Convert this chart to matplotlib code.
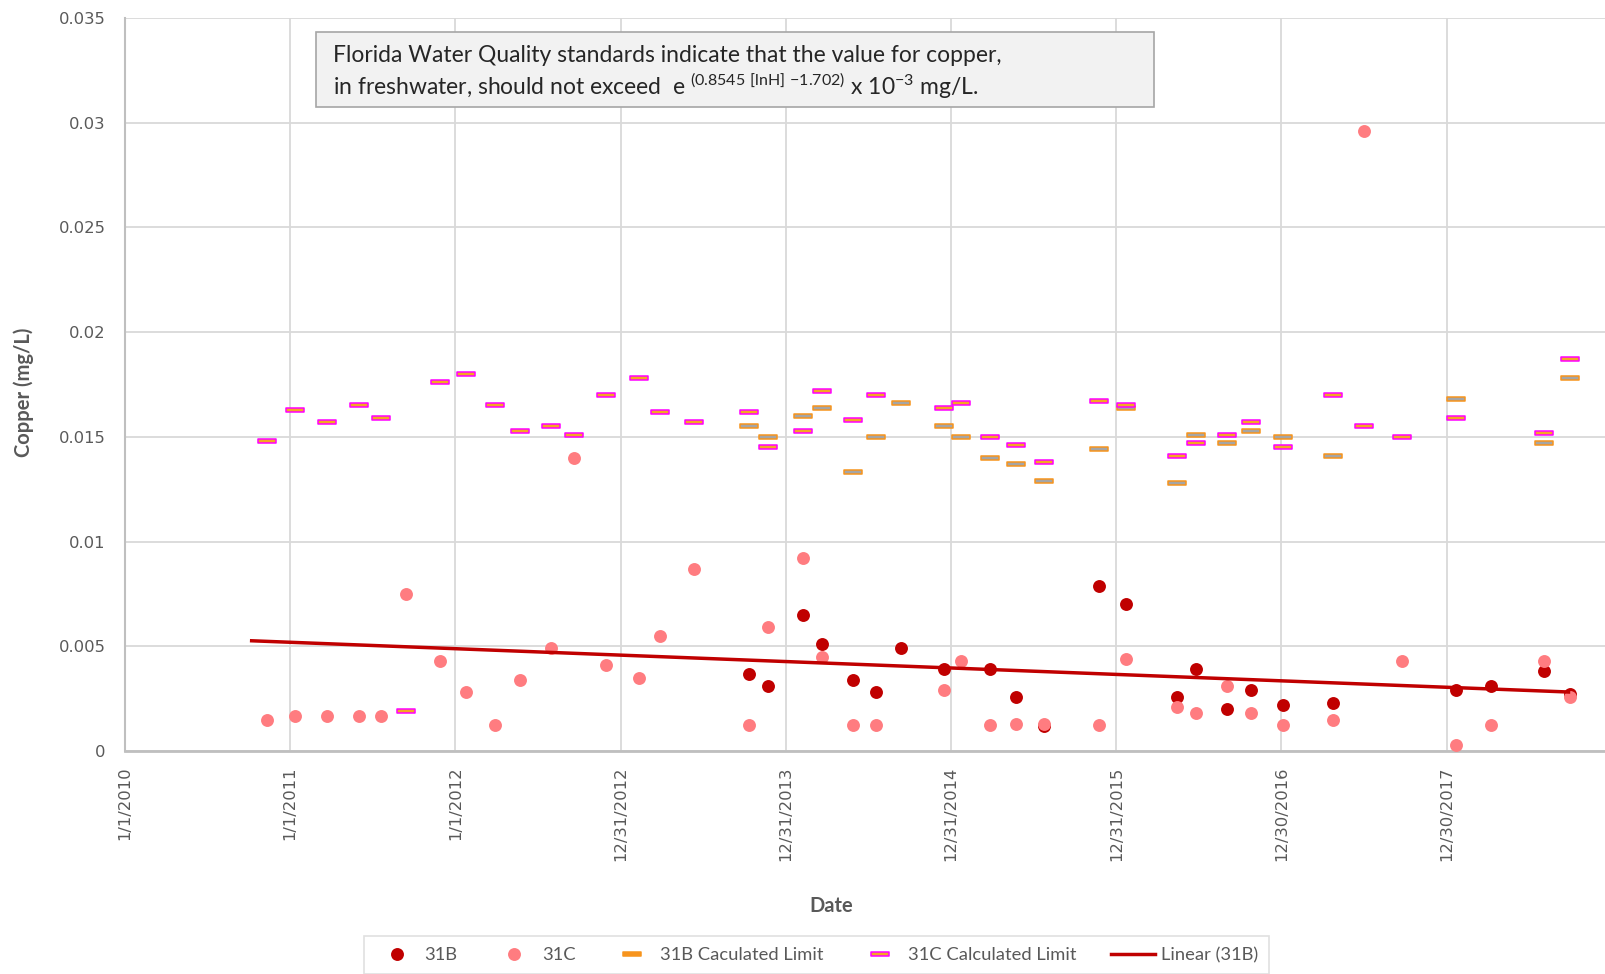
"""
Copper at stations 31B / 31C with the calculated Florida limits.
"""

import numpy as np
import pandas as pd
import matplotlib
matplotlib.use('Agg')
import matplotlib.pyplot as plt
import matplotlib.dates as mdates
from matplotlib.path import Path
from matplotlib.lines import Line2D
from matplotlib.patches import Rectangle

plt.rcParams.update({
    'font.family': 'DejaVu Sans',
    'mathtext.fontset': 'custom',
    'mathtext.rm': 'Lato',
})

# --- data (mg/L) ---
dates_31c = ['2010-11-10', '2011-01-12', '2011-03-23', '2011-06-02', '2011-07-21',
             '2011-09-14', '2011-11-29', '2012-01-25', '2012-03-29', '2012-05-23',
             '2012-07-31', '2012-09-20', '2012-11-28', '2013-02-10', '2013-03-27',
             '2013-06-10', '2013-10-10', '2013-11-22', '2014-02-07', '2014-03-20',
             '2014-05-29', '2014-07-18', '2014-12-16', '2015-01-21', '2015-03-26',
             '2015-05-24', '2015-07-24', '2015-11-23', '2016-01-21', '2016-05-13',
             '2016-06-25', '2016-09-01', '2016-10-23', '2017-01-03', '2017-04-22',
             '2017-07-01', '2017-09-23', '2018-01-19', '2018-04-06', '2018-08-03',
             '2018-09-29']
cu_31c = [0.00148, 0.00169, 0.00169, 0.00169, 0.00169,
          0.0075, 0.0043, 0.0028, 0.00124, 0.0034,
          0.0049, 0.0140, 0.0041, 0.0035, 0.0055,
          0.0087, 0.00124, 0.0059, 0.0092, 0.0045,
          0.00124, 0.00124, 0.0029, 0.0043, 0.00124,
          0.0013, 0.00127, 0.00124, 0.0044, 0.0021,
          0.0018, 0.0031, 0.0018, 0.00123, 0.0015,
          0.0296, 0.0043, 0.0003, 0.00124, 0.0043,
          0.0026]

dates_31b = ['2013-10-10', '2013-11-22', '2014-02-07', '2014-03-20', '2014-05-29',
             '2014-07-18', '2014-09-12', '2014-12-16', '2015-03-26', '2015-05-24',
             '2015-07-24', '2015-11-23', '2016-01-21', '2016-05-13', '2016-06-25',
             '2016-09-01', '2016-10-23', '2017-01-03', '2017-04-22', '2018-01-19',
             '2018-04-06', '2018-08-03', '2018-09-29']
cu_31b = [0.0037, 0.0031, 0.0065, 0.0051, 0.0034,
          0.0028, 0.0049, 0.0039, 0.0039, 0.0026,
          0.0012, 0.0079, 0.0070, 0.0026, 0.0039,
          0.0020, 0.0029, 0.0022, 0.0023, 0.0029,
          0.0031, 0.0038, 0.0027]

lim_dates_31c = ['2010-11-10', '2011-01-12', '2011-03-23', '2011-06-02', '2011-07-21',
                 '2011-09-14', '2011-11-29', '2012-01-25', '2012-03-29', '2012-05-23',
                 '2012-07-31', '2012-09-20', '2012-11-28', '2013-02-10', '2013-03-27',
                 '2013-06-10', '2013-10-10', '2013-11-22', '2014-02-07', '2014-03-20',
                 '2014-05-29', '2014-07-18', '2014-12-16', '2015-01-21', '2015-03-26',
                 '2015-05-24', '2015-07-24', '2015-11-23', '2016-01-21', '2016-05-13',
                 '2016-06-25', '2016-09-01', '2016-10-23', '2017-01-03', '2017-04-22',
                 '2017-07-01', '2017-09-23', '2018-01-19', '2018-08-03', '2018-09-29']
lim_31c = [0.0148, 0.0163, 0.0157, 0.0165, 0.0159,
           0.0019, 0.0176, 0.0180, 0.0165, 0.0153,
           0.0155, 0.0151, 0.0170, 0.0178, 0.0162,
           0.0157, 0.0162, 0.0145, 0.0153, 0.0172,
           0.0158, 0.0170, 0.0164, 0.0166, 0.0150,
           0.0146, 0.0138, 0.0167, 0.0165, 0.0141,
           0.0147, 0.0151, 0.0157, 0.0145, 0.0170,
           0.0155, 0.0150, 0.0159, 0.0152, 0.0187]

lim_dates_31b = ['2013-10-10', '2013-11-22', '2014-02-07', '2014-03-20', '2014-05-29',
                 '2014-07-18', '2014-09-12', '2014-12-16', '2015-01-21', '2015-03-26',
                 '2015-05-24', '2015-07-24', '2015-11-23', '2016-01-21', '2016-05-13',
                 '2016-06-25', '2016-09-01', '2016-10-23', '2017-01-03', '2017-04-22',
                 '2018-01-19', '2018-08-03', '2018-09-29']
lim_31b = [0.0155, 0.0150, 0.0160, 0.0164, 0.0133,
           0.0150, 0.0166, 0.0155, 0.0150, 0.0140,
           0.0137, 0.0129, 0.0144, 0.0164, 0.0128,
           0.0151, 0.0147, 0.0153, 0.0150, 0.0141,
           0.0168, 0.0147, 0.0178]

# first sampling date of the 31B record (trendline starts here)
trend_start = '2010-10-04'

axis_start = '2010-01-01'
axis_days = 3272
tick_step = 365
yticks = [0, 0.005, 0.01, 0.015, 0.02, 0.025, 0.03, 0.035]
ytick_labels = ['0', '0.005', '0.01', '0.015', '0.02', '0.025', '0.03', '0.035']

# --- colours ---
C_31B = '#C00000'
C_31C = '#FF7C80'
C_ORANGE = '#F7941D'
C_GRAY = '#A5A5A5'
C_MAG = '#FF00FF'
C_FILL = '#F5A623'

dash = Path([(-1, -0.2), (1, -0.2), (1, 0.2), (-1, 0.2), (-1, -0.2)],
            [Path.MOVETO, Path.LINETO, Path.LINETO, Path.LINETO, Path.CLOSEPOLY])

fig = plt.figure(figsize=(16.06, 9.74), dpi=100)
ax = fig.add_axes([125 / 1606, (974 - 751) / 974, 1 - 125 / 1606, (751 - 18) / 974])

d31b = pd.to_datetime(dates_31b)
d31c = pd.to_datetime(dates_31c)

ax.plot(d31b, cu_31b, 'o', color=C_31B, ms=9.3, mew=0, zorder=3)
ax.plot(d31c, cu_31c, 'o', color=C_31C, ms=9.3, mew=0, zorder=4)
ax.plot(pd.to_datetime(lim_dates_31b), lim_31b, ls='none', marker=dash, ms=13,
        mfc=C_GRAY, mec=C_ORANGE, mew=1.1, zorder=5)
ax.plot(pd.to_datetime(lim_dates_31c), lim_31c, ls='none', marker=dash, ms=13,
        mfc=C_FILL, mec=C_MAG, mew=1.1, zorder=6)

# linear trendline for 31B
xb = mdates.date2num(d31b)
slope, icpt = np.polyfit(xb, cu_31b, 1)
xt = np.array([mdates.date2num(pd.Timestamp(trend_start)), xb.max()])
ax.plot(xt, slope * xt + icpt, color=C_31B, lw=2.5, zorder=7, solid_capstyle='butt')

# axes
x0 = mdates.date2num(pd.Timestamp(axis_start))
ax.set_xlim(x0, x0 + axis_days)
ax.set_ylim(0, 0.035)
xticks = x0 + np.arange(0, axis_days, tick_step)
ax.set_xticks(xticks)
ax.set_xticklabels([f'{d.month}/{d.day}/{d.year}' for d in mdates.num2date(xticks)],
                   rotation=90, fontsize=11.8, color='#595959')
ax.set_yticks(yticks)
ax.set_yticklabels(ytick_labels, fontsize=11.8, color='#595959')
ax.tick_params(axis='both', length=0)
ax.tick_params(axis='x', pad=11)
ax.tick_params(axis='y', pad=14)
ax.grid(True, color='#D9D9D9', lw=1.3, zorder=0)
ax.set_axisbelow(True)
for s in ['top', 'right']:
    ax.spines[s].set_visible(False)
ax.spines['left'].set_color('#BFBFBF')
ax.spines['left'].set_linewidth(1.5)
ax.spines['bottom'].set_color('#BFBFBF')
ax.spines['bottom'].set_linewidth(2)

ax.set_ylabel('Copper (mg/L)', family='Lato', fontweight='bold', fontsize=14.5, color='#595959')
ax.yaxis.set_label_coords(-0.0615, 0.49)
ax.set_xlabel('Date', family='Lato', fontweight='bold', fontsize=14.5, color='#595959')
ax.xaxis.set_label_coords(0.477, -0.198)

# note box
fig.patches.append(Rectangle((316 / 1606, 1 - 107 / 974), (1154 - 316) / 1606, 75 / 974,
                             transform=fig.transFigure, facecolor='#F2F2F2',
                             edgecolor='#A6A6A6', lw=1.2, zorder=10))
fig.text(333 / 1606, 1 - 56 / 974,
         'Florida Water Quality standards indicate that the value for copper,',
         family='Lato', fontsize=16.5, color='#262626', va='center', ha='left', zorder=11)
fig.text(333 / 1606, 1 - 86 / 974,
         r'in freshwater, should not exceed  e$^{\mathregular{\ (0.8545\ [lnH]\ {-}1.702)}}$'
         r' x 10$^{\mathregular{{-}3}}$ mg/L.',
         family='Lato', fontsize=16.5, color='#262626', va='center', ha='left', zorder=11)

# legend
handles = [
    Line2D([], [], ls='none', marker='o', color=C_31B, ms=9.3, mew=0),
    Line2D([], [], ls='none', marker='o', color=C_31C, ms=9.3, mew=0),
    Line2D([], [], ls='none', marker=dash, ms=13, mfc=C_ORANGE, mec=C_ORANGE, mew=1.1),
    Line2D([], [], ls='none', marker=dash, ms=13, mfc=C_FILL, mec=C_MAG, mew=1.1),
    Line2D([], [], color=C_31B, lw=2.5),
]
labels = ['31B', '31C', '31B Caculated Limit', '31C Calculated Limit', 'Linear (31B)']
leg = fig.legend(handles, labels, loc='upper center', bbox_to_anchor=(0.5084, (974 - 936) / 974),
                 ncol=5, frameon=True, fancybox=False, edgecolor='#D9D9D9',
                 prop={'family': 'Lato', 'size': 13.2}, handlelength=2.4,
                 handletextpad=0.3, columnspacing=1.9, borderpad=0.6, borderaxespad=0)
leg.get_frame().set_linewidth(1.2)
for t in leg.get_texts():
    t.set_color('#595959')

fig.savefig('out.png', dpi=100, facecolor='white')
print('Saved: out.png')
plt.close()
